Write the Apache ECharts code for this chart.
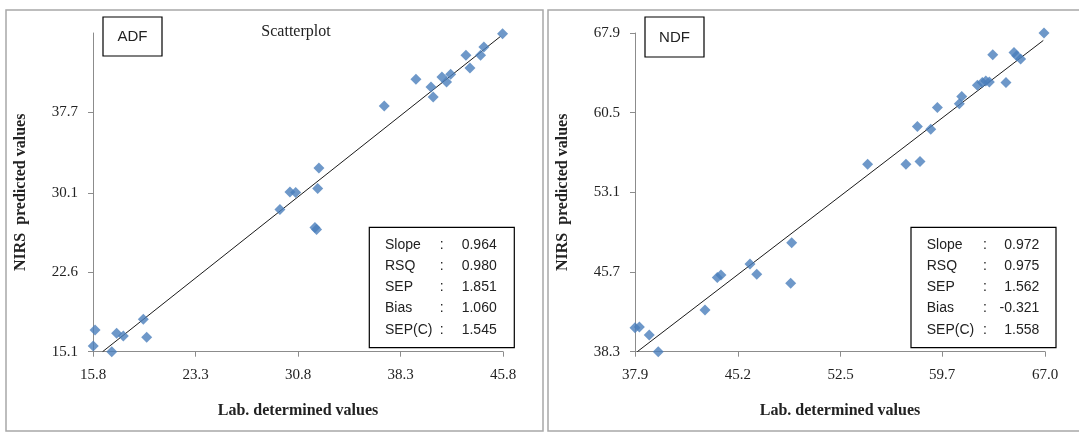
<!DOCTYPE html>
<html>
<head>
<meta charset="utf-8">
<script src="https://cdn.jsdelivr.net/npm/echarts@6/dist/echarts.min.js"></script>
<style>
html,body{margin:0;padding:0;background:#fff;}
#c{width:1079px;height:434px;}
</style>
</head>
<body>
<div id="c"></div>
<script>
// ---- Data ----
const adfLab = [45.77,44.40,43.09,44.16,43.38,39.43,41.33,41.97,41.67,40.53,40.69,37.11,32.33,30.21,30.63,32.24,29.48,32.04,32.16,19.48,15.95,17.53,18.02,19.73,15.82,17.17];
const adfNirs = [45.14,43.87,43.09,43.09,41.89,40.83,41.04,41.30,40.57,40.10,39.16,38.31,32.46,30.19,30.14,30.52,28.53,26.84,26.65,18.16,17.15,16.84,16.58,16.46,15.64,15.10];
const ndfLab = [66.93,63.29,64.80,64.99,65.27,64.23,62.20,62.55,62.80,63.05,61.09,60.92,59.36,57.94,58.89,54.41,57.13,58.13,49.02,46.06,46.54,43.74,44.00,48.95,42.87,37.90,38.21,38.91,39.55];
const ndfNirs = [67.90,65.88,66.10,65.79,65.48,63.31,63.05,63.30,63.45,63.34,62.00,61.33,60.98,59.22,58.97,55.72,55.72,55.96,48.43,46.45,45.50,45.18,45.43,44.66,42.18,40.53,40.60,39.85,38.30];
const adfFitX = [16.5, 45.62];
const adfFitY = [15.1, 44.88];
const ndfFitX = [38.06, 66.88];
const ndfFitY = [38.3, 67.21];
const adfXTicks = [15.8, 23.3, 30.8, 38.3, 45.8];
const adfYTicks = [15.1, 22.6, 30.1, 37.7];
const ndfXTicks = [37.9, 45.2, 52.5, 59.7, 67.0];
const ndfYTicks = [38.3, 45.7, 53.1, 60.5, 67.9];
const statLabels = ['Slope', 'RSQ', 'SEP', 'Bias', 'SEP(C)'];
const adfStats = ['0.964', '0.980', '1.851', '1.060', '1.545'];
const ndfStats = ['0.972', '0.975', '1.562', '-0.321', '1.558'];
const panelTitles = ['ADF', 'NDF'];
const chartTitle = 'Scatterplot';
const xName = 'Lab. determined values';
const yName = 'NIRS  predicted values';

// ---- Chart ----
const chart = echarts.init(document.getElementById('c'), null, {renderer: 'canvas'});
const serif = 'Liberation Serif, Times New Roman, serif';
const sans = 'Liberation Sans, Arial, sans-serif';
const axisGray = '#8c8c8c';
const blue = '#4A7EBB';

function xAxisCfg(idx, min, max, ticks) {
  return {
    type: 'value', gridIndex: idx, min: min, max: max,
    name: xName, nameLocation: 'middle', nameGap: 51,
    nameTextStyle: {fontFamily: serif, fontWeight: 'bold', fontSize: 16, color: '#222'},
    axisLine: {show: true, onZero: false, lineStyle: {color: axisGray, width: 1}},
    axisTick: {show: true, length: 5, lineStyle: {color: axisGray}, customValues: ticks},
    axisLabel: {customValues: ticks, margin: 16, fontFamily: serif, fontSize: 15, color: '#222',
      formatter: v => Number(v).toFixed(1)},
    splitLine: {show: false}
  };
}
function yAxisCfg(idx, min, max, ticks, gap) {
  return {
    type: 'value', gridIndex: idx, min: min, max: max,
    name: yName, nameLocation: 'middle', nameGap: gap,
    nameTextStyle: {fontFamily: serif, fontWeight: 'bold', fontSize: 16, color: '#222'},
    axisLine: {show: true, onZero: false, lineStyle: {color: axisGray, width: 1}},
    axisTick: {show: true, length: 5, lineStyle: {color: axisGray}, customValues: ticks},
    axisLabel: {customValues: ticks, margin: 15, fontFamily: serif, fontSize: 15, color: '#222',
      formatter: v => Number(v).toFixed(1)},
    splitLine: {show: false}
  };
}
function pairs(xs, ys) { return xs.map((x, i) => [x, ys[i]]); }

function statsGraphics(boxX, labelX, colonX, valueRight, values) {
  const rowY = [245, 266, 287.3, 308.3, 330];
  const els = [{
    type: 'rect', z: 100, shape: {x: boxX, y: 227.3, width: 145, height: 120.4},
    style: {fill: '#fff', stroke: '#000', lineWidth: 1.2}
  }];
  statLabels.forEach((lab, i) => {
    els.push({type: 'text', z: 101, style: {x: labelX, y: rowY[i], text: lab, font: '14px ' + sans, fill: '#222', textAlign: 'left', textVerticalAlign: 'middle'}});
    els.push({type: 'text', z: 101, style: {x: colonX, y: rowY[i], text: ':', font: '14px ' + sans, fill: '#222', textAlign: 'center', textVerticalAlign: 'middle'}});
    els.push({type: 'text', z: 101, style: {x: valueRight, y: rowY[i], text: values[i], font: '14px ' + sans, fill: '#222', textAlign: 'right', textVerticalAlign: 'middle'}});
  });
  return els;
}

const graphics = [
  {type: 'rect', z: 0, shape: {x: 6, y: 10, width: 537, height: 421}, style: {fill: 'none', stroke: '#a8a8a8', lineWidth: 1.5}},
  {type: 'rect', z: 0, shape: {x: 548, y: 10, width: 540, height: 421}, style: {fill: 'none', stroke: '#a8a8a8', lineWidth: 1.5}},
  {type: 'rect', z: 100, shape: {x: 103, y: 17, width: 59, height: 39}, style: {fill: '#fff', stroke: '#000', lineWidth: 1.2}},
  {type: 'text', z: 101, style: {x: 132.5, y: 37, text: panelTitles[0], font: '15px ' + sans, fill: '#222', textAlign: 'center', textVerticalAlign: 'middle'}},
  {type: 'rect', z: 100, shape: {x: 645, y: 17, width: 59, height: 40}, style: {fill: '#fff', stroke: '#000', lineWidth: 1.2}},
  {type: 'text', z: 101, style: {x: 674.5, y: 37.5, text: panelTitles[1], font: '15px ' + sans, fill: '#222', textAlign: 'center', textVerticalAlign: 'middle'}},
  {type: 'text', z: 101, style: {x: 296, y: 32, text: chartTitle, font: '16px ' + serif, fill: '#222', textAlign: 'center', textVerticalAlign: 'middle'}}
].concat(statsGraphics(369.3, 385, 441.7, 496.7, adfStats))
 .concat(statsGraphics(911, 926.7, 985, 1039.3, ndfStats));

const option = {
  backgroundColor: '#fff',
  animation: false,
  grid: [
    {left: 93, top: 33, width: 410, height: 318.7},
    {left: 635, top: 33, width: 410, height: 318.7}
  ],
  xAxis: [
    xAxisCfg(0, adfXTicks[0], adfXTicks[adfXTicks.length - 1], adfXTicks),
    xAxisCfg(1, ndfXTicks[0], ndfXTicks[ndfXTicks.length - 1], ndfXTicks)
  ],
  yAxis: [
    yAxisCfg(0, adfYTicks[0], 45.2, adfYTicks, 64),
    yAxisCfg(1, ndfYTicks[0], ndfYTicks[ndfYTicks.length - 1], ndfYTicks, 64)
  ],
  series: [
    {type: 'line', xAxisIndex: 0, yAxisIndex: 0, data: pairs(adfFitX, adfFitY), symbol: 'none', silent: true,
      lineStyle: {color: '#1a1a1a', width: 1}, z: 2},
    {type: 'scatter', xAxisIndex: 0, yAxisIndex: 0, data: pairs(adfLab, adfNirs), symbol: 'diamond', symbolSize: 11,
      itemStyle: {color: blue}, z: 3},
    {type: 'line', xAxisIndex: 1, yAxisIndex: 1, data: pairs(ndfFitX, ndfFitY), symbol: 'none', silent: true,
      lineStyle: {color: '#1a1a1a', width: 1}, z: 2},
    {type: 'scatter', xAxisIndex: 1, yAxisIndex: 1, data: pairs(ndfLab, ndfNirs), symbol: 'diamond', symbolSize: 11,
      itemStyle: {color: blue}, z: 3}
  ],
  graphic: graphics
};
chart.setOption(option);
</script>
</body>
</html>
